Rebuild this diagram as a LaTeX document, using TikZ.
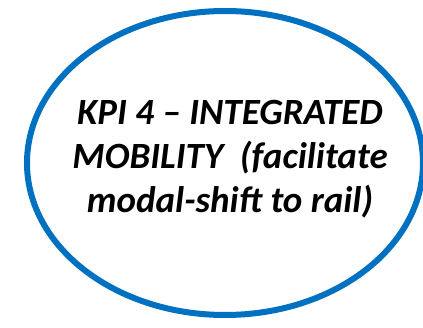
\documentclass[tikz,border=0pt]{standalone}
\usepackage{fontspec}
\setmainfont{Carlito}
\definecolor{ovalblue}{RGB}{0,112,192}
\begin{document}
\begin{tikzpicture}[x=1pt,y=1pt,
  kpitext/.style={anchor=base, inner sep=0pt, font=\fontsize{37}{44}\selectfont\bfseries\itshape}]
\useasboundingbox (0,0) rectangle (423,327);
\draw[ovalblue, line width=6pt] (225,164) ellipse [x radius=198, y radius=152];
\node[kpitext] (l1) at (230,202) {KPI 4 – INTEGRATED};
\node[kpitext] (l2) at (230,158) {MOBILITY\ \ (facilitate};
\node[kpitext] (l3) at (230,114) {modal-shift to rail)};
\end{tikzpicture}
\end{document}
